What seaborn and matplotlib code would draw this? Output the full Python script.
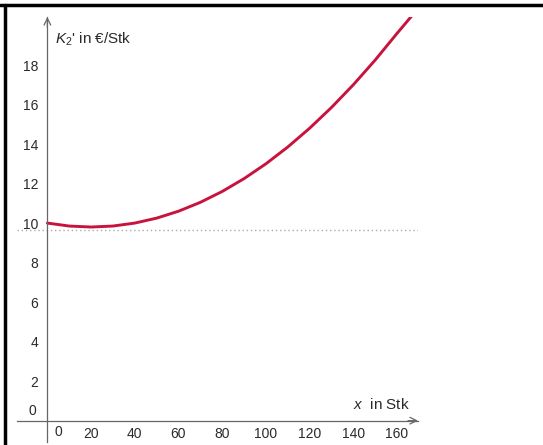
import matplotlib
matplotlib.use("Agg")
import matplotlib.pyplot as plt
from matplotlib.lines import Line2D
import seaborn as sns
import pandas as pd

x_stk = [0, 10, 20, 30, 40, 50, 60, 70, 80, 90, 100, 110, 120, 130, 140, 150, 160, 168]
k2 = [10.0, 9.85, 9.8, 9.85, 10.0, 10.25, 10.6, 11.05, 11.6, 12.25, 13.0, 13.85,
      14.8, 15.85, 17.0, 18.25, 19.6, 20.65]
dotted_level = 9.65
x_ticks = [20, 40, 60, 80, 100, 120, 140, 160]
y_ticks = [2, 4, 6, 8, 10, 12, 14, 16, 18]

sns.set_theme(style="white")
plt.rcParams["font.family"] = ["Liberation Sans", "DejaVu Sans"]
plt.rcParams["mathtext.fontset"] = "custom"
plt.rcParams["mathtext.rm"] = "Liberation Sans"
plt.rcParams["mathtext.it"] = "Liberation Sans:italic"

df = pd.DataFrame({"x": x_stk, "k": k2})

fig = plt.figure(figsize=(5.43, 4.45), dpi=100)
ax = fig.add_axes([17 / 543, 3 / 445, 401 / 543, 425 / 445])
ax.set_xlim(-13.9, 169.6)
ax.set_ylim(-1.08, 20.43)

axis_col = "#666666"
txt_col = "#2a2a2a"

ax.axhline(dotted_level, color="#aaaaaa", lw=1, linestyle=(0, (1, 2)))
sns.lineplot(data=df, x="x", y="k", ax=ax, color="#c8143c", lw=2.1)

# axes through the origin
for s in ["top", "right"]:
    ax.spines[s].set_visible(False)
ax.spines["left"].set_position(("data", 0))
ax.spines["bottom"].set_position(("data", 0))
for s in ["left", "bottom"]:
    ax.spines[s].set_color(axis_col)
    ax.spines[s].set_linewidth(0.9)

ax.annotate("", xy=(169.6, 0), xytext=(165, 0), annotation_clip=False,
            arrowprops=dict(arrowstyle="->", color=axis_col, lw=0.9, shrinkA=0, shrinkB=0))
ax.annotate("", xy=(0, 20.43), xytext=(0, 19.9), annotation_clip=False,
            arrowprops=dict(arrowstyle="->", color=axis_col, lw=0.9, shrinkA=0, shrinkB=0))

ax.set_xticks(x_ticks)
ax.set_yticks(y_ticks)
ax.set_xticks(range(-10, 170, 10), minor=True)
ax.set_yticks(range(-1, 21), minor=True)
ax.tick_params(axis="both", which="major", direction="out", length=3, width=0.8,
               color=axis_col, labelsize=10, labelcolor=txt_col)
ax.tick_params(axis="x", which="major", pad=1.5)
ax.tick_params(axis="y", which="major", pad=3.5)
ax.tick_params(axis="both", which="minor", direction="out", length=1.5, width=0.7,
               color=axis_col)
ax.set_xlabel("")
ax.set_ylabel("")

# zero labels offset like in the reference
ax.text(5, -0.57, "0", fontsize=10, color=txt_col, ha="center", va="center")
ax.text(-5.2, 0.49, "0", fontsize=10, color=txt_col, ha="right", va="center")

ax.text(3.5, 19.3, r"$K_2$' in €/Stk", fontsize=11, color=txt_col, ha="left", va="center")
ax.text(166, 0.8, r"$x$  in Stk", fontsize=11, color=txt_col, ha="right", va="center")

# frame lines of the surrounding table cell
fig.add_artist(Line2D([0, 1], [1 - 5 / 445, 1 - 5 / 445], color="black", lw=2.5))
fig.add_artist(Line2D([5 / 543, 5 / 543], [0, 1 - 5 / 445], color="black", lw=2.5))

fig.savefig("out.png", dpi=100)
